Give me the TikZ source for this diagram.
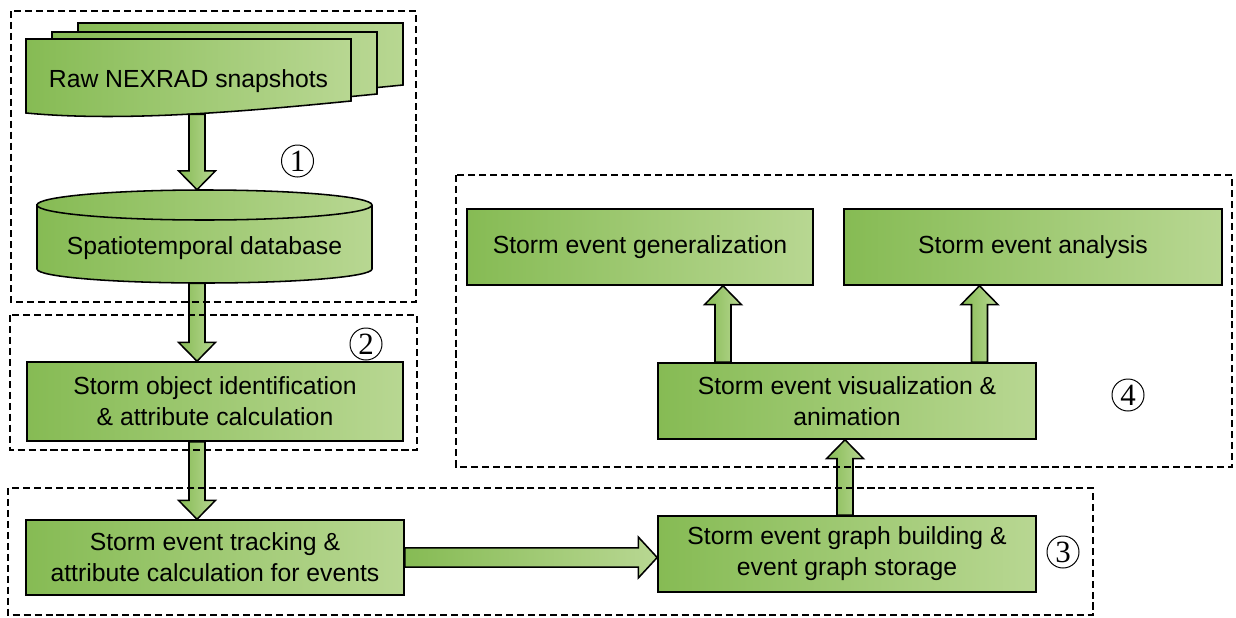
\documentclass[tikz,border=0pt]{standalone}
\usepackage{fontspec}
\setmainfont{Liberation Sans}
\newfontfamily\numfont{Liberation Serif}
\usetikzlibrary{calc,positioning}
\definecolor{gdark}{RGB}{134,187,84}
\definecolor{glight}{RGB}{184,215,146}
\tikzset{
  greenfill/.style={draw=black, line width=1.1pt, left color=gdark, right color=glight},
  box/.style={greenfill, rectangle, align=center, inner sep=0pt},
  group/.style={draw=black, line width=1.1pt, dash pattern=on 5pt off 2.8pt},
  stepnum/.style={circle, draw, line width=0.7pt, inner sep=0pt, minimum size=0.8cm, font=\numfont\fontsize{22}{22}\selectfont},
  blockarrow/.style 2 args={greenfill, to path={let \p1=(\tikztostart), \p2=(\tikztotarget), \n1={atan2(\y2-\y1,\x2-\x1)} in
    ($(\p1)+(\n1+90:#1)$) -- ($(\p2)+(\n1+180:0.47cm)+(\n1+90:#1)$)
    -- ($(\p2)+(\n1+180:0.47cm)+(\n1+90:#2)$) -- (\p2)
    -- ($(\p2)+(\n1+180:0.47cm)+(\n1-90:#2)$) -- ($(\p2)+(\n1+180:0.47cm)+(\n1-90:#1)$)
    -- ($(\p1)+(\n1-90:#1)$) -- cycle}},
  bigarrow/.style={blockarrow={0.2cm}{0.46cm}},
  widearrow/.style={blockarrow={0.24cm}{0.51cm}}
}
\begin{document}
\begin{tikzpicture}[x=0.025cm, y=-0.025cm, font=\fontsize{17.6}{22}\selectfont]
  \useasboundingbox (0,0) rectangle (1236,618);

  % stacked snapshots
  \foreach \dx/\dy in {52/-16, 26/-7, 0/0}
    \draw[greenfill, shift={(\dx,\dy)}] (26,39) -- (351,39) -- (351,101) .. controls (240,112) and (120,122) .. (26,113) -- cycle;
  \node[anchor=base, inner sep=0pt, minimum width=8.125cm, text height=1.2cm, text depth=0.675cm] (raw) at (188.5,87) {Raw NEXRAD snapshots};

  % database
  \draw[greenfill] (37,205) -- (37,269) arc[start angle=180, end angle=0, x radius=167.5, y radius=14] -- (372,205) arc[start angle=0, end angle=-180, x radius=167.5, y radius=15] -- cycle;
  \draw[line width=1.1pt] (37,205) arc[start angle=180, end angle=0, x radius=167.5, y radius=15];
  \node[anchor=base, inner sep=0pt, minimum width=8.375cm, text height=1.6cm, text depth=0.725cm] (db) at (204.5,254) {Spatiotemporal database};

  \node[box, minimum width=9.4cm, minimum height=1.975cm] (obj) at (215,401.5) {Storm object identification\\\& attribute calculation};
  \node[box, minimum width=9.45cm, minimum height=1.875cm] (track) at (215,557.5) {Storm event tracking \&\\attribute calculation for events};
  \node[box, minimum width=9.45cm, minimum height=1.9cm] (graph) at (847,554) {Storm event graph building \&\\event graph storage};
  \node[box, minimum width=9.45cm, minimum height=1.9cm] (vis) at (847,401) {Storm event visualization \&\\animation};
  \node[box, minimum width=8.65cm, minimum height=1.9cm] (gen) at (640,247) {Storm event generalization};
  \node[box, minimum width=9.45cm, minimum height=1.9cm] (ana) at (1033,247) {Storm event analysis};

  \coordinate (colA) at (197,0);
  \coordinate (colB) at (845,0);
  \coordinate (colC) at (723,0);
  \coordinate (colD) at (979.5,0);

  \draw[bigarrow] (colA |- raw.south) to (colA |- db.north);
  \draw[bigarrow] (colA |- db.south) to (colA |- obj.north);
  \draw[bigarrow] (colA |- obj.south) to (colA |- track.north);
  \draw[widearrow] (track.east) to (track.east -| graph.west);
  \draw[bigarrow] (colB |- graph.north) to (colB |- vis.south);
  \draw[bigarrow] (colC |- vis.north) to (colC |- gen.south);
  \draw[bigarrow] (colD |- vis.north) to (colD |- ana.south);

  % groups
  \draw[group] (11,11) rectangle (416,302);
  \draw[group] (10,315) rectangle (417,450);
  \draw[group] (8,488) rectangle (1093,615);
  \draw[group] (456,175) rectangle (1232,467);

  \node[stepnum] (n1) at (297.5,161) {1};
  \node[stepnum] (n2) at (366,344) {2};
  \node[stepnum] (n3) at (1063,552) {3};
  \node[stepnum] (n4) at (1128,395) {4};
\end{tikzpicture}
\end{document}
